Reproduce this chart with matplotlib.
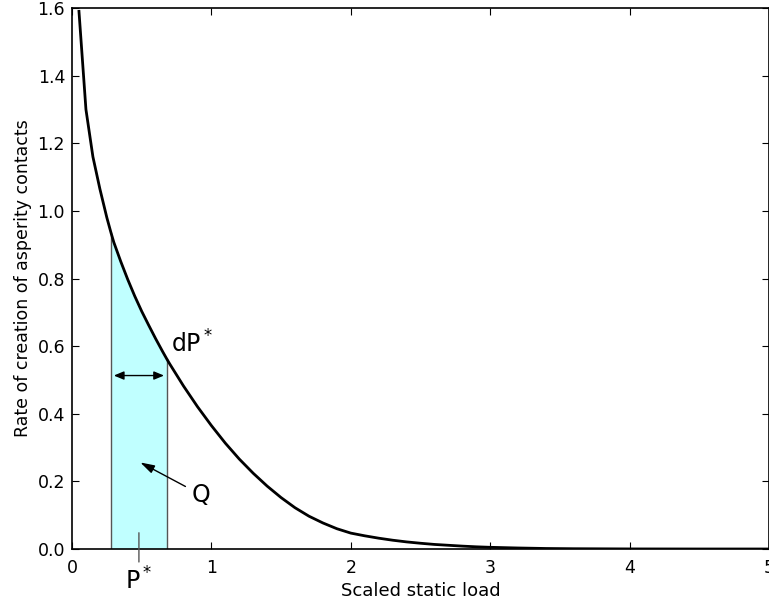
import numpy as np
import matplotlib
matplotlib.use("Agg")
import matplotlib.pyplot as plt

# scaled static load P* and rate of creation of asperity contacts
load = [0.05, 0.1, 0.15, 0.2, 0.25, 0.28, 0.3, 0.35, 0.4, 0.45, 0.5, 0.55,
        0.6, 0.65, 0.68, 0.7, 0.8, 0.9, 1.0, 1.1, 1.2, 1.3, 1.4, 1.5, 1.6,
        1.7, 1.8, 1.9, 2.0, 2.1, 2.2, 2.3, 2.4, 2.5, 2.6, 2.7, 2.8, 2.9,
        3.0, 3.2, 3.4, 3.6, 4.0, 4.5, 5.0]
rate = [1.59, 1.30, 1.16, 1.065, 0.98, 0.935, 0.907, 0.85, 0.797, 0.748,
        0.703, 0.662, 0.622, 0.584, 0.562, 0.548, 0.482, 0.421, 0.365, 0.313,
        0.266, 0.224, 0.186, 0.152, 0.122, 0.097, 0.077, 0.06, 0.047, 0.039,
        0.032, 0.026, 0.021, 0.017, 0.0135, 0.011, 0.0085, 0.0065,
        0.005, 0.003, 0.0015, 0.0008, 0.0002, 0.0, 0.0]

# load interval P* .. P* + dP* that is shaded
p_lo, p_hi = 0.28, 0.68

load = np.array(load)
rate = np.array(rate)

fig = plt.figure(figsize=(7.69, 6.09), dpi=100)
ax = fig.add_axes([72/769, 60/609, 697/769, 541/609])

inside = (load >= p_lo) & (load <= p_hi)
ax.fill_between(load, 0, rate, where=inside, color="#c0ffff", lw=0)
for x0 in (p_lo, p_hi):
    ax.plot([x0, x0], [0, rate[load == x0][0]], color="#555555", lw=1)

ax.plot(load, rate, color="k", lw=2, zorder=3)

### dP* width arrow
y_arr = 0.513
ax.annotate("", xy=(p_lo, y_arr), xytext=(p_hi, y_arr),
            arrowprops=dict(arrowstyle="<|-|>,head_length=0.6,head_width=0.25",
                            color="k", lw=1, shrinkA=2, shrinkB=2))
ax.text(p_hi + 0.03, 0.605, "dP$^*$", fontsize=17, ha="left", va="center")

### Q: the shaded area
ax.annotate("Q", xy=(0.49, 0.256), xytext=(0.86, 0.16), fontsize=17,
            ha="left", va="center",
            arrowprops=dict(arrowstyle="-|>,head_length=0.5,head_width=0.15",
                            color="k", lw=1, shrinkA=3, shrinkB=0))

### P* below the axis
ax.annotate("P$^*$", xy=(0.48, 0.048), xytext=(0.48, -0.095), fontsize=17,
            ha="center", va="center", annotation_clip=False,
            arrowprops=dict(arrowstyle="-", color="#555555", lw=1,
                            shrinkA=2, shrinkB=0))

ax.set_xlim(0, 5)
ax.set_ylim(0, 1.6)
ax.set_xticks(range(6))
ax.set_yticks(np.arange(0, 1.61, 0.2))
ax.tick_params(direction="in", top=True, right=True, length=5,
               labelsize=12.5, width=0.8)
ax.tick_params(axis="x", pad=7)
ax.tick_params(axis="y", pad=5)
for sp in ax.spines.values():
    sp.set_linewidth(1.2)

ax.set_xlabel("Scaled static load", fontsize=13)
ax.set_ylabel("Rate of creation of asperity contacts", fontsize=12.5)

fig.savefig("out.png", dpi=100)
